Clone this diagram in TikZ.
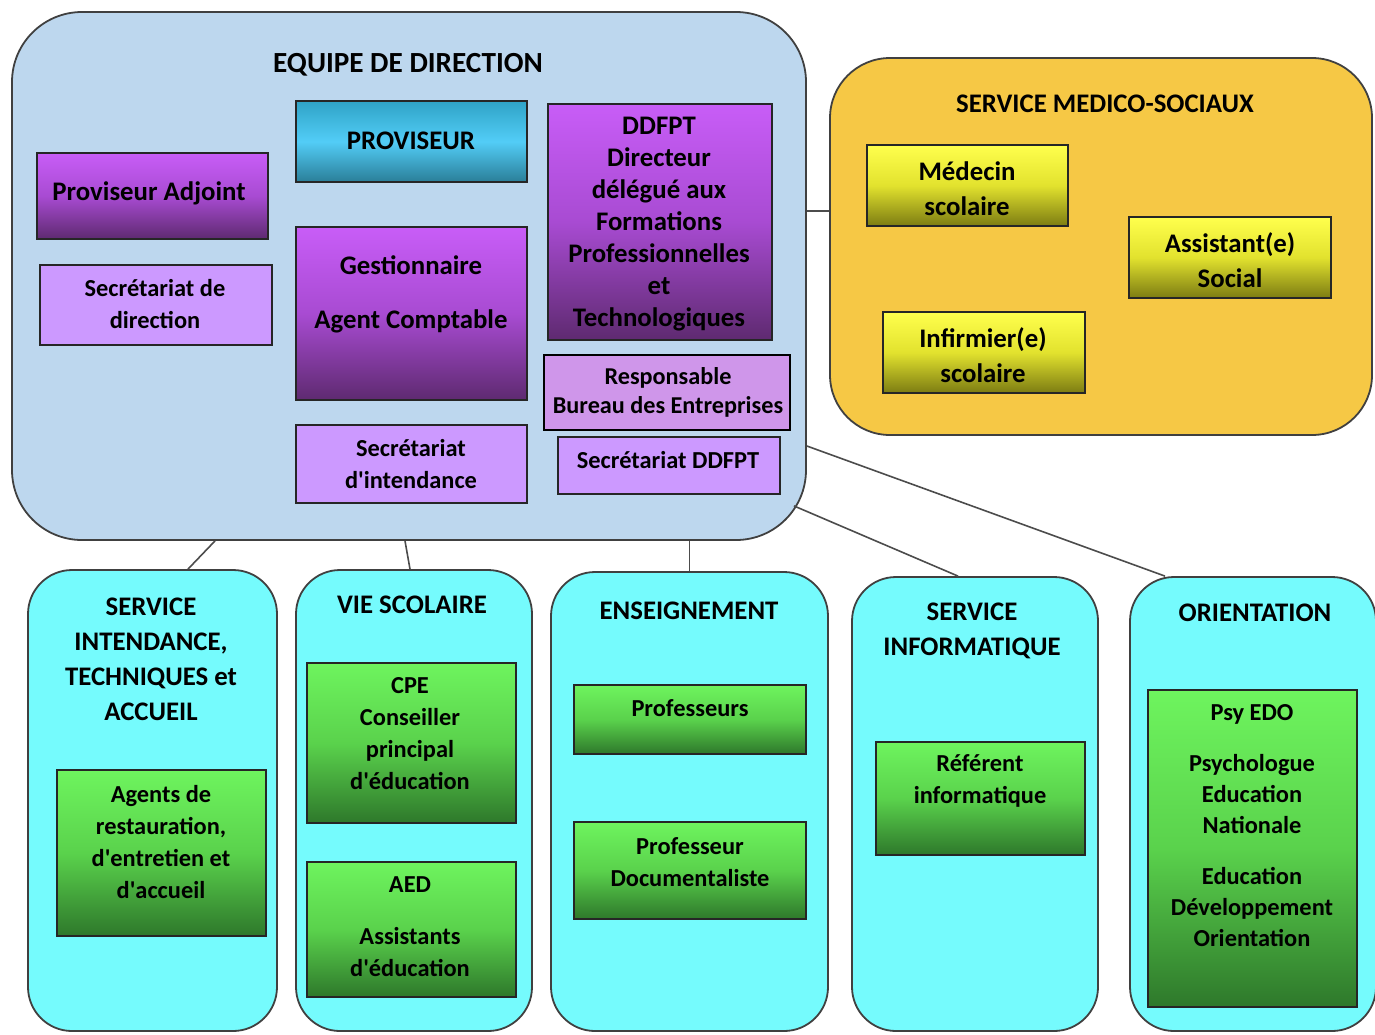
\documentclass[tikz,border=0pt]{standalone}
\usepackage{fontspec}
\setmainfont{Carlito}
\definecolor{dirBlue}{HTML}{BDD7EE}
\definecolor{medOrange}{HTML}{F6C845}
\definecolor{servCyan}{HTML}{75FBFD}
\definecolor{lilac}{HTML}{CC99FF}
\definecolor{respLilac}{HTML}{CF96EA}
\definecolor{vTop}{HTML}{C85DF7}
\definecolor{vMid}{HTML}{A84BD2}
\definecolor{vBot}{HTML}{5E2A70}
\definecolor{cTop}{HTML}{2FA3C6}
\definecolor{cMid}{HTML}{52CDF7}
\definecolor{cBot}{HTML}{2A7E98}
\definecolor{yTop}{HTML}{FFFF4D}
\definecolor{yMid}{HTML}{E2E22E}
\definecolor{yBot}{HTML}{7C7C12}
\definecolor{gTop}{HTML}{6EF45E}
\definecolor{gMid}{HTML}{5AD24C}
\definecolor{gBot}{HTML}{2E782B}
\newcommand\ap{\textquotesingle}
\begin{document}
\begin{tikzpicture}[x=0.5pt,y=-0.5pt]
   \tikzstyle{group}=[draw=black!75,line width=0.9pt,inner sep=0pt,rounded corners=22pt]
   \tikzstyle{inbox}=[draw=black!85,line width=0.8pt,inner sep=0pt]
   \tikzstyle{violetbox}=[inbox,top color=vTop,bottom color=vBot,middle color=vMid]
   \tikzstyle{lilacbox}=[inbox,fill=lilac]
   \tikzstyle{cyanbox}=[inbox,top color=cTop,bottom color=cBot,middle color=cMid]
   \tikzstyle{yellowbox}=[inbox,top color=yTop,bottom color=yBot,middle color=yMid]
   \tikzstyle{greenbox}=[inbox,top color=gTop,bottom color=gBot,middle color=gMid]
   \tikzstyle{txt}=[font=\bfseries\fontsize{13.4}{16}\selectfont,align=center,inner sep=0pt]
   \tikzstyle{wide}=[font=\bfseries\fontsize{13.4}{17.5}\selectfont]
   \tikzstyle{small}=[font=\bfseries\fontsize{12.2}{16}\selectfont]
   \tikzstyle{link}=[draw=black!70,line width=0.8pt]
   \useasboundingbox (0,0) rectangle (1375,1034);
   % groups
   \node (dir) [group,fill=dirBlue,rounded corners=35pt,minimum width=397pt,minimum height=264pt] at (409,276) {};
   \node (med) [group,fill=medOrange,rounded corners=30pt,minimum width=271pt,minimum height=188.5pt] at (1101,246.5) {};
   \node (intend) [group,fill=servCyan,minimum width=124.5pt,minimum height=230.5pt] at (152.5,800.5) {};
   \node (vie) [group,fill=servCyan,minimum width=118pt,minimum height=230.5pt] at (414,800.5) {};
   \node (ens) [group,fill=servCyan,minimum width=138.5pt,minimum height=229.5pt] at (689.5,801.5) {};
   \node (info) [group,fill=servCyan,minimum width=123pt,minimum height=227pt] at (975,804) {};
   \node (orient) [group,fill=servCyan,minimum width=123pt,minimum height=227pt] at (1253,804) {};
   % links
   \coordinate (medlink) at ([yshift=32.5pt]dir.east);
   \path [link] (medlink) -- (medlink -| med.west);
   \path [link] ([xshift=-97pt]dir.south) -- ([xshift=17.75pt]intend.north);
   \path [link] ([xshift=-2pt]dir.south) -- ([xshift=-2pt]vie.north);
   \path [link] (ens.north) -- (ens.north |- dir.south);
   \path [link] ([xshift=-6.5pt,yshift=17.5pt]dir.south east) -- ([xshift=-8.5pt]info.north);
   \path [link] ([yshift=-85pt]dir.east) -- ([xshift=-44pt]orient.north);
   % titles
   \node (dirT) [txt,font=\bfseries\fontsize{14.6}{17}\selectfont] at (408,65) {EQUIPE DE DIRECTION};
   \node (medT) [txt] at (1105,104) {SERVICE MEDICO-SOCIAUX};
   \node (intendT) [txt,wide] at (151,659.5) {SERVICE\\INTENDANCE,\\TECHNIQUES et\\ACCUEIL};
   \node (vieT) [txt] at (412,605) {VIE SCOLAIRE};
   \node (ensT) [txt] at (689,611) {ENSEIGNEMENT};
   \node (infoT) [txt,wide] at (972,630.5) {SERVICE\\INFORMATIQUE};
   \node (orientT) [txt] at (1255,613) {ORIENTATION};
   % direction
   \node (prov) [cyanbox,minimum width=115.5pt,minimum height=40.5pt] at (411.5,141.5) {};
   \node (adj) [violetbox,minimum width=115.5pt,minimum height=43pt] at (152.5,196) {};
   \node (secdir) [lilacbox,minimum width=116pt,minimum height=40pt] at (156,305) {};
   \node (gest) [violetbox,minimum width=115.5pt,minimum height=86.5pt] at (411.5,313.5) {};
   \node (ddfpt) [violetbox,minimum width=112pt,minimum height=118pt] at (660,222) {};
   \node (resp) [inbox,fill=respLilac,line width=1.3pt,draw=black,minimum width=123pt,minimum height=37.5pt] at (667,392.5) {};
   \node (secint) [lilacbox,minimum width=115.5pt,minimum height=39pt] at (411.5,464) {};
   \node (secddfpt) [lilacbox,minimum width=111pt,minimum height=28.5pt] at (669,465.5) {};
   \node (provT) [txt] at (411,141) {PROVISEUR};
   \node (adjT) [txt] at (149,193) {Proviseur Adjoint};
   \node (secdirT) [txt,small] at (155,304) {Secrétariat de\\direction};
   \node (gestT) [txt] at (411,294) {Gestionnaire\\[11pt]Agent Comptable};
   \node (ddfptT) [txt] at (659,224.5) {DDFPT\\Directeur\\délégué aux\\Formations\\Professionnelles\\et\\Technologiques};
   \node (respT) [txt,font=\bfseries\fontsize{12.1}{14.5}\selectfont] at (668,392.5) {Responsable\\Bureau des Entreprises};
   \node (secintT) [txt,small] at (411,464.5) {Secrétariat\\d\ap intendance};
   \node (secddfptT) [txt,small] at (668,460) {Secrétariat DDFPT};
   % medico-sociaux
   \node (medecin) [yellowbox,minimum width=100.5pt,minimum height=40.5pt] at (967.5,185.5) {};
   \node (assist) [yellowbox,minimum width=101pt,minimum height=40.5pt] at (1230,257.5) {};
   \node (infirm) [yellowbox,minimum width=101pt,minimum height=40.5pt] at (984,352.5) {};
   \node (medecinT) [txt,wide] at (967,188.5) {Médecin\\scolaire};
   \node (assistT) [txt,wide] at (1230,260.5) {Assistant(e)\\Social};
   \node (infirmT) [txt,wide] at (983,355) {Infirmier(e)\\scolaire};
   % services
   \node (agents) [greenbox,minimum width=104.5pt,minimum height=83pt] at (161.5,853) {};
   \node (cpe) [greenbox,minimum width=104.5pt,minimum height=80pt] at (411.5,743) {};
   \node (aed) [greenbox,minimum width=104.5pt,minimum height=67.5pt] at (411.5,929.5) {};
   \node (profs) [greenbox,minimum width=116pt,minimum height=34.5pt] at (690,719.5) {};
   \node (doc) [greenbox,minimum width=116pt,minimum height=48.5pt] at (690,870.5) {};
   \node (ref) [greenbox,minimum width=104.5pt,minimum height=56.5pt] at (980.5,798.5) {};
   \node (psy) [greenbox,minimum width=104.5pt,minimum height=158.5pt] at (1252.5,848.5) {};
   \node (agentsT) [txt,small] at (161,842.5) {Agents de\\restauration,\\d\ap entretien et\\d\ap accueil};
   \node (cpeT) [txt,small] at (410,733.5) {CPE\\Conseiller\\principal\\d\ap éducation};
   \node (aedT) [txt,small] at (410,926.5) {AED\\[10pt]Assistants\\d\ap éducation};
   \node (profsT) [txt,small] at (690,708) {Professeurs};
   \node (docT) [txt,small] at (690,862) {Professeur\\Documentaliste};
   \node (refT) [txt,small] at (980,781) {Référent\\informatique};
   \node (psyT) [txt,font=\bfseries\fontsize{12.2}{15.5}\selectfont] at (1252,826) {Psy EDO\\[10pt]Psychologue\\Education\\Nationale\\[10pt]Education\\Développement\\Orientation};
\end{tikzpicture}
\end{document}
